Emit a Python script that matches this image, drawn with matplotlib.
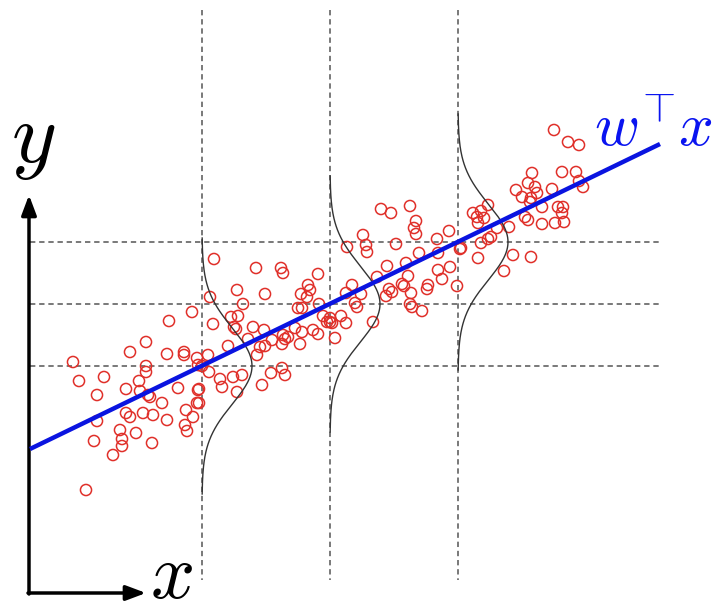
import numpy as np
import matplotlib
matplotlib.use('Agg')
from matplotlib import pyplot as plt

plt.rcParams['mathtext.fontset'] = 'cm'

pointsX = [192, 169, 146, 130, 167, 184, 184, 73, 146, 146, 198, 79, 104, 139, 126, 140,
           178, 198, 97, 148, 150, 162, 197, 126, 143, 153, 130, 186, 193, 167, 97, 185,
           187, 120, 136, 122, 94, 152, 122, 113, 86,
           214, 256, 281, 283, 318, 237, 265, 308, 310, 301, 307, 210, 243, 298, 302, 319,
           231, 238, 323, 330, 213, 236, 234, 253, 264, 313, 318, 302, 295, 283, 288, 285,
           272, 248, 300, 260, 265, 282, 228, 208, 197, 257, 202, 282, 271, 285, 209, 233,
           242, 220, 222, 262, 237, 199, 199,
           381, 391, 410, 416, 414, 416, 449, 363, 347, 366, 367, 396, 437, 438, 419, 460,
           387, 406, 450, 438, 442, 377, 408, 352, 402, 404, 428, 427, 389, 392, 457, 411,
           346, 386, 361, 355, 357, 410, 412, 422, 330, 341, 346, 332, 327, 373, 335,
           554, 568, 579, 532, 562, 576, 528, 579, 583, 535, 537, 516, 552, 522, 530, 531,
           488, 542, 558, 563, 562, 473, 477, 481, 484, 478, 525, 528, 509, 542, 555, 564,
           497, 491, 488, 481, 461, 513, 531, 478, 504]
pointsY = [312, 321, 342, 352, 354, 352, 355, 362, 366, 372, 365, 381, 377, 381, 389, 391,
           388, 390, 395, 395, 397, 403, 403, 413, 413, 415, 417, 410, 417, 420, 421, 425,
           431, 430, 433, 439, 441, 443, 446, 455, 490,
           259, 268, 268, 273, 274, 290, 294, 285, 290, 294, 297, 297, 304, 308, 308, 304,
           317, 316, 316, 322, 324, 329, 327, 327, 330, 330, 334, 332, 328, 335, 337, 339,
           340, 339, 344, 347, 346, 344, 346, 355, 358, 355, 366, 368, 373, 375, 372, 377,
           375, 379, 387, 385, 392, 389, 403,
           209, 213, 206, 221, 228, 234, 231, 235, 247, 245, 252, 244, 239, 253, 253, 249,
           266, 263, 267, 270, 279, 277, 276, 285, 284, 286, 285, 289, 289, 292, 286, 293,
           293, 296, 294, 303, 307, 304, 307, 311, 318, 316, 323, 323, 322, 322, 338,
           130, 142, 145, 173, 172, 172, 183, 181, 187, 187, 193, 190, 189, 197, 202, 198,
           205, 207, 207, 207, 213, 213, 217, 211, 218, 223, 217, 220, 227, 224, 223, 222,
           228, 237, 239, 243, 248, 255, 257, 258, 271]

# regression line end points and grid of query positions
lineX = [30, 660]
lineY = [449, 144]
gridX = [202, 330, 458]
gridY = [366, 304, 242]
# noise density drawn at each query position
noiseSigma = 38
noiseHeight = 50
noiseSpan = 128

fig = plt.figure(figsize=(7.28, 6.12), dpi=100)
ax = fig.add_axes([0, 0, 1, 1])
ax.set_xlim(0, 728)
ax.set_ylim(612, 0)
ax.axis('off')

for gx in gridX:
  ax.plot([gx, gx], [10, 580], color='#555555', lw=1.1, ls=(0, (3.5, 2.5)), zorder=1)
for gy in gridY:
  ax.plot([30, 660], [gy, gy], color='#555555', lw=1.1, ls=(0, (3.5, 2.5)), zorder=1)

ax.scatter(pointsX, pointsY, s=64, facecolors='none', edgecolors='#e0302a', linewidths=1.1, zorder=2)

for gx, gy in zip(gridX, gridY):
  t = np.linspace(-noiseSpan, noiseSpan, 200)
  ax.plot(gx + noiseHeight * np.exp(-t**2 / (2 * noiseSigma**2)), gy + t, color='#333333', lw=1.0, zorder=3)

ax.plot(lineX, lineY, color='#0a14e0', lw=3.2, zorder=4, solid_capstyle='butt')

# axis arrows
ax.annotate('', xy=(29, 195), xytext=(29, 594),
            arrowprops=dict(arrowstyle='-|>,head_length=1.2,head_width=0.45', lw=2.5, color='black', shrinkA=0, shrinkB=0))
ax.annotate('', xy=(146, 593), xytext=(28, 593),
            arrowprops=dict(arrowstyle='-|>,head_length=1.2,head_width=0.45', lw=2.5, color='black', shrinkA=0, shrinkB=0))

ax.text(33, 140, r'$y$', fontsize=62, ha='center', va='center')
ax.text(171, 598, r'$x$', fontsize=56, ha='center', va='baseline')
ax.text(594, 146, r'$w^{\!\top}\!x$', fontsize=44, ha='left', va='baseline', color='#0a14f0')

plt.savefig('out.png', dpi=100)
